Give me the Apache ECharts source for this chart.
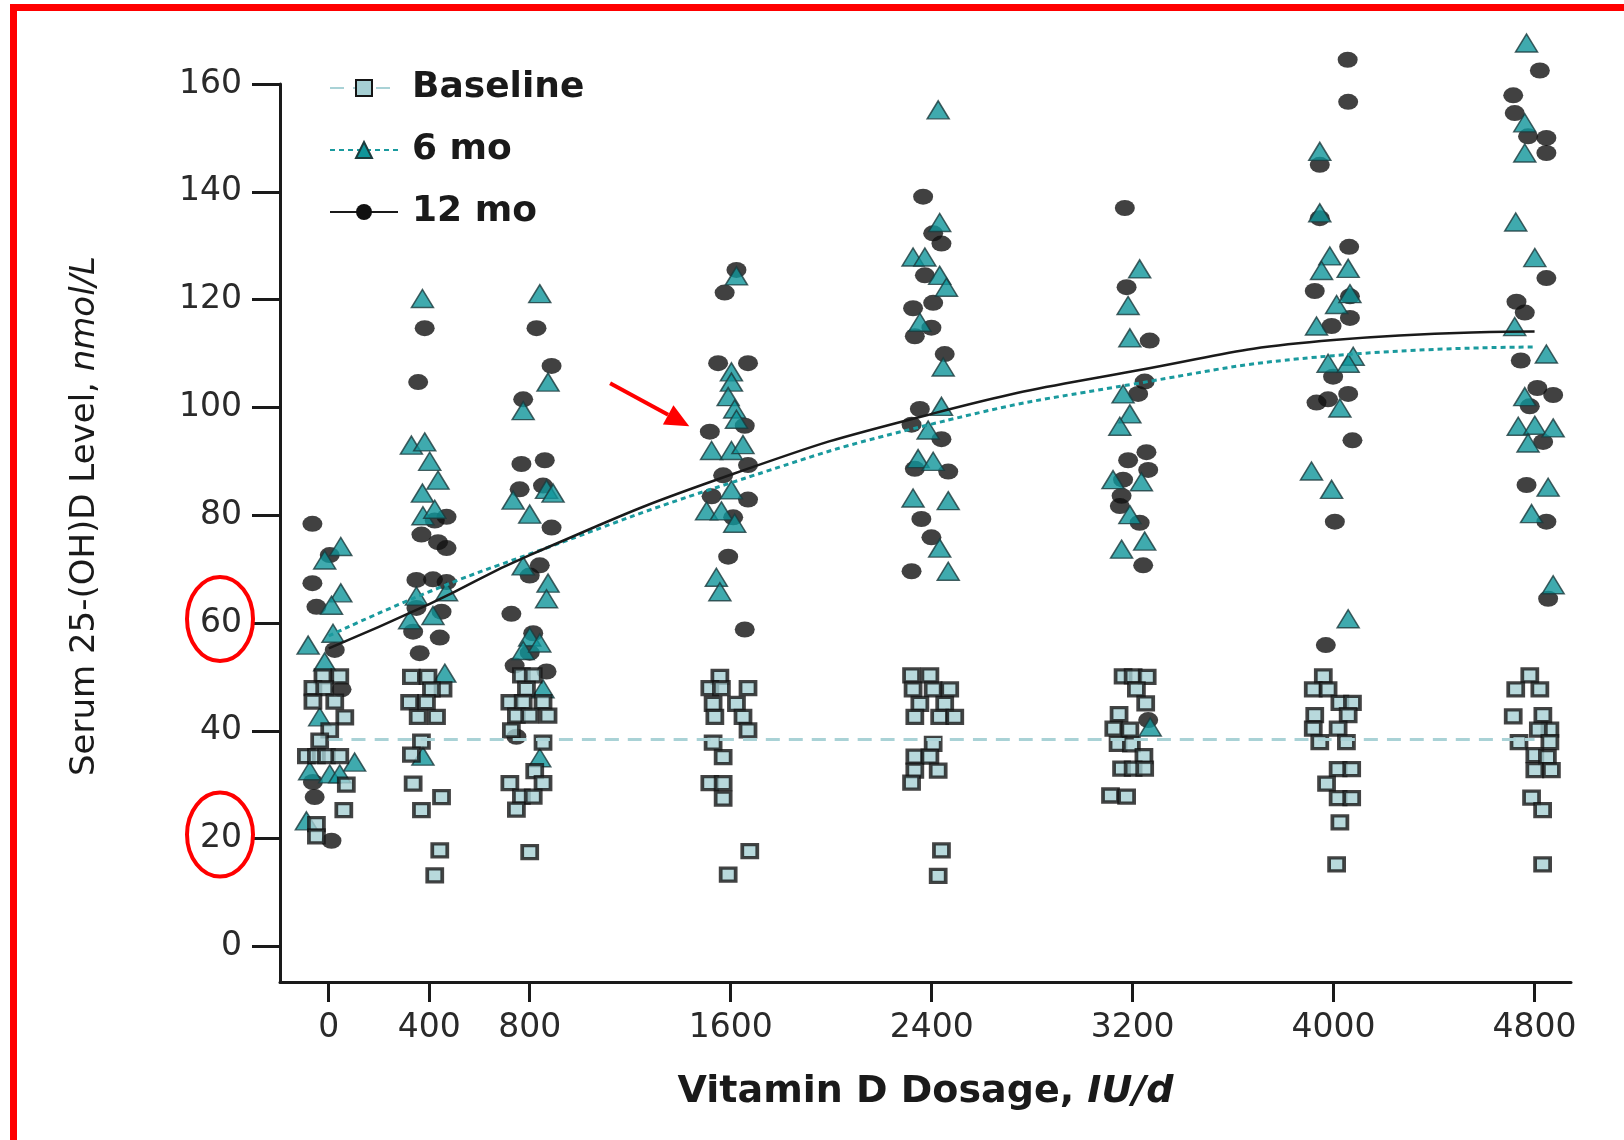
<!DOCTYPE html>
<html>
<head>
<meta charset="utf-8">
<script src="https://cdn.jsdelivr.net/npm/echarts@6/dist/echarts.min.js"></script>
<style>
  html, body { margin: 0; padding: 0; background: #fff; }
  #chart { width: 1624px; height: 1140px; }
</style>
</head>
<body>
<div id="chart"></div>
<script>
// dosage ticks (IU/d) and value ticks (nmol/L)
const doseTicks = [0, 400, 800, 1600, 2400, 3200, 4000, 4800]
const valueTicks = [0, 20, 40, 60, 80, 100, 120, 140, 160]

// fitted curves, read at each dosage
const baselineFit = [38.4, 38.4, 38.4, 38.4, 38.4, 38.4, 38.4, 38.4]
const sixMoFit = [57.6, 65.8, 72.8, 86.0, 96.9, 104.3, 109.6, 111.2]
const twelveMoFit = [55.3, 63.5, 72.6, 87.5, 98.8, 106.7, 112.5, 114.1]

// individual points: [jittered dose, level]
const baselinePts = [
  [-23, 50.1], [44, 50.1], [-63, 47.9], [-16, 47.9], [-63, 45.4], [24, 45.4], [64, 42.5], [4, 40.1], [-36, 38.2],
  [-89, 35.3], [-49, 35.3], [-9, 35.3], [44, 35.3], [70, 30.0], [60, 25.3], [-49, 22.7], [-49, 20.4],
  [329, 50.0], [395, 50.0], [455, 47.7], [409, 47.7], [322, 45.3], [389, 45.3], [356, 42.6], [429, 42.6],
  [369, 38.0], [329, 35.6], [336, 30.2], [449, 27.7], [369, 25.3], [442, 17.8], [422, 13.2],
  [767, 50.3], [814, 50.3], [787, 47.8], [721, 45.3], [774, 45.3], [853, 45.3], [747, 42.8], [800, 42.8],
  [873, 42.8], [727, 40.1], [853, 37.8], [820, 32.5], [721, 30.3], [853, 30.3], [767, 27.8], [814, 27.8],
  [747, 25.4], [800, 17.5],
  [1557, 50.0], [1517, 47.9], [1563, 47.9], [1669, 47.9], [1530, 45.0], [1623, 45.0], [1537, 42.6], [1649, 42.6],
  [1669, 40.1], [1530, 37.8], [1570, 35.1], [1517, 30.3], [1570, 30.3], [1570, 27.4], [1676, 17.7], [1590, 13.3],
  [2320, 50.3], [2393, 50.3], [2326, 47.7], [2406, 47.7], [2472, 47.7], [2353, 45.0], [2452, 45.0], [2333, 42.6],
  [2432, 42.6], [2492, 42.6], [2406, 37.6], [2333, 35.2], [2393, 35.2], [2333, 32.6], [2426, 32.6], [2320, 30.4],
  [2439, 17.8], [2426, 13.1],
  [3162, 50.1], [3202, 50.1], [3258, 50.0], [3215, 47.7], [3252, 45.1], [3146, 43.1], [3125, 40.4], [3189, 40.2],
  [3142, 37.6], [3195, 37.5], [3245, 35.3], [3156, 33.0], [3202, 33.0], [3248, 33.0], [3112, 28.0], [3176, 27.8],
  [3959, 50.1], [3919, 47.7], [3978, 47.7], [4025, 45.2], [4075, 45.2], [3925, 42.9], [4058, 42.9], [3919, 40.4],
  [4018, 40.4], [3945, 37.9], [4051, 37.9], [4018, 32.9], [4072, 32.9], [3972, 30.2], [4018, 27.5], [4072, 27.5],
  [4025, 23.0], [4012, 15.2],
  [4781, 50.3], [4725, 47.7], [4821, 47.7], [4715, 42.7], [4833, 42.9], [4861, 40.2], [4815, 40.2], [4738, 37.9],
  [4861, 37.9], [4801, 35.5], [4851, 35.1], [4801, 32.7], [4867, 32.7], [4788, 27.6], [4832, 25.3], [4832, 15.2]
]

const sixMoPts = [
  [48, 74.2], [-16, 71.7], [48, 65.6], [11, 63.3], [17, 58.1], [-82, 55.9], [-16, 52.8], [-36, 42.6], [103, 34.2],
  [-76, 32.6], [4, 32.0], [44, 32.0], [-89, 23.3],
  [373, 120.2], [329, 93.0], [382, 93.6], [402, 90.0], [435, 86.5], [373, 84.1], [375, 79.9], [422, 81.1],
  [349, 65.0], [469, 65.8], [322, 60.6], [415, 61.4], [462, 50.7], [375, 35.3],
  [840, 121.1], [873, 104.7], [774, 99.4], [734, 82.8], [867, 84.8], [800, 80.2], [893, 84.1], [774, 70.6],
  [873, 67.4], [867, 64.5], [800, 57.4], [774, 54.9], [840, 56.3], [853, 47.8], [840, 35.0],
  [1623, 124.4], [1603, 106.6], [1603, 104.7], [1590, 102.0], [1616, 99.7], [1623, 97.8], [1524, 92.0], [1603, 92.0],
  [1649, 93.1], [1603, 84.7], [1504, 80.8], [1563, 80.8], [1616, 78.5], [1543, 68.5], [1557, 65.8],
  [2426, 155.2], [2432, 134.3], [2326, 127.9], [2373, 127.9], [2432, 124.5], [2459, 122.3], [2353, 115.8], [2446, 107.5],
  [2439, 100.2], [2386, 95.8], [2346, 90.5], [2406, 90.0], [2326, 83.2], [2466, 82.7], [2432, 73.9], [2466, 69.6],
  [3228, 125.7], [3182, 118.9], [3189, 112.9], [3162, 102.5], [3189, 98.8], [3149, 96.5], [3122, 86.6], [3235, 86.2],
  [3189, 80.1], [3248, 75.2], [3156, 73.7], [3270, 40.7],
  [3945, 147.5], [3945, 136.1], [3985, 128.1], [3952, 125.4], [4058, 125.8], [4012, 119.1], [4065, 121.1], [3932, 115.1],
  [3978, 108.2], [4078, 109.5], [4058, 108.2], [4025, 99.9], [3912, 88.2], [3992, 84.8], [4058, 60.8],
  [4768, 167.6], [4761, 152.8], [4761, 147.2], [4725, 134.4], [4801, 127.8], [4721, 115.0], [4847, 109.9], [4761, 102.0],
  [4735, 96.5], [4801, 96.7], [4874, 96.2], [4774, 93.4], [4854, 85.2], [4788, 80.3], [4874, 67.1]
]

const twelveMoPts = [
  [-65, 78.4], [4, 72.6], [-65, 67.4], [-49, 63.0], [24, 55.0], [51, 47.7], [-63, 30.5], [-56, 27.7], [11, 19.6],
  [382, 114.7], [356, 104.7], [422, 79.0], [469, 79.7], [369, 76.4], [435, 75.0], [469, 73.9], [349, 68.0],
  [415, 68.1], [469, 67.6], [349, 62.8], [449, 62.1], [336, 58.4], [442, 57.3], [362, 54.4],
  [827, 114.7], [887, 107.7], [774, 101.5], [767, 89.5], [860, 90.2], [760, 84.8], [853, 85.5], [887, 77.7],
  [840, 70.7], [800, 68.8], [727, 61.7], [814, 58.1], [800, 54.5], [740, 52.1], [867, 51.0], [747, 38.9],
  [1623, 125.5], [1576, 121.3], [1550, 108.2], [1669, 108.2], [1656, 96.6], [1517, 95.5], [1669, 89.3], [1570, 87.4],
  [1524, 83.5], [1669, 82.9], [1610, 79.6], [1590, 72.3], [1656, 58.8],
  [2366, 139.1], [2406, 132.3], [2439, 130.4], [2373, 124.5], [2326, 118.4], [2406, 119.4], [2399, 114.8], [2333, 113.2],
  [2452, 109.9], [2353, 99.7], [2320, 96.8], [2439, 94.1], [2333, 88.6], [2466, 88.1], [2359, 79.3], [2399, 75.9],
  [2320, 69.6],
  [3169, 137.0], [3176, 122.3], [3268, 112.4], [3248, 104.8], [3222, 102.5], [3182, 90.2], [3255, 91.7], [3262, 88.4],
  [3162, 86.6], [3156, 83.6], [3149, 81.7], [3228, 78.6], [3242, 70.7], [3262, 42.0],
  [4056, 164.5], [4058, 156.7], [3945, 145.0], [3945, 135.1], [4062, 129.8], [3925, 121.6], [4065, 120.6], [4065, 116.6],
  [3992, 115.1], [3998, 105.7], [3932, 100.9], [3978, 101.5], [4058, 102.5], [4075, 93.9], [4005, 78.8], [3969, 55.9],
  [4821, 162.5], [4715, 157.9], [4721, 154.6], [4774, 150.3], [4847, 150.0], [4847, 147.2], [4728, 119.6], [4761, 117.6],
  [4847, 124.0], [4745, 108.7], [4811, 103.6], [4874, 102.3], [4781, 100.2], [4834, 93.6], [4768, 85.6], [4847, 78.8],
  [4854, 64.5]
]

const FONT = 'DejaVu Sans'
const INK = '#1a1a1a'

const sqStyle = { color: '#a6cfd3', borderColor: '#151515', borderWidth: 3.5 }
const triStyle = { color: '#0f959a', borderColor: '#1b3a3c', borderWidth: 1.5 }
const dotStyle = { color: '#111111' }

const zipFit = vals => doseTicks.map((d, i) => [d, vals[i]])

const chart = echarts.init(document.getElementById('chart'), null, { renderer: 'canvas' })

const option = {
  animation: false,
  backgroundColor: '#fff',
  grid: { left: 280, right: 53, top: 84, bottom: 158 },
  legend: {
    orient: 'vertical',
    left: 324,
    top: 65,
    itemWidth: 68,
    itemHeight: 20,
    itemGap: 26,
    data: ['Baseline', '6 mo', '12 mo'],
    textStyle: { fontFamily: FONT, fontSize: 36, fontWeight: 'bold', color: INK, padding: [0, 0, 0, 9] }
  },
  xAxis: {
    type: 'value',
    min: -194,
    max: 4945,
    name: '{n|Vitamin D Dosage, }{i|IU/d}',
    nameLocation: 'middle',
    nameGap: 91,
    nameTextStyle: {
      rich: {
        n: { fontFamily: FONT, fontSize: 38, fontWeight: 'bold', color: INK },
        i: { fontFamily: FONT, fontSize: 38, fontWeight: 'bold', fontStyle: 'italic', color: INK }
      }
    },
    axisLine: { onZero: false, lineStyle: { color: INK, width: 3 } },
    axisTick: { length: 20, lineStyle: { color: INK, width: 3 }, customValues: doseTicks },
    axisLabel: {
      customValues: doseTicks, margin: 30, fontFamily: FONT, fontSize: 33, color: '#2a2a2a',
      formatter: v => String(v)
    },
    splitLine: { show: false }
  },
  yAxis: {
    type: 'value',
    min: -6.6,
    max: 160,
    name: '{n|Serum 25-(OH)D Level, }{i|nmol/L}',
    nameLocation: 'middle',
    nameRotate: 90,
    nameGap: 178,
    nameTextStyle: {
      padding: [0, 0, 0, 34],
      rich: {
        n: { fontFamily: FONT, fontSize: 34, color: INK },
        i: { fontFamily: FONT, fontSize: 34, fontStyle: 'italic', color: INK }
      }
    },
    axisLine: { onZero: false, lineStyle: { color: INK, width: 3 } },
    axisTick: { length: 28, lineStyle: { color: INK, width: 3 }, customValues: valueTicks },
    axisLabel: { customValues: valueTicks, margin: 38, fontFamily: FONT, fontSize: 33, color: '#2a2a2a' },
    splitLine: { show: false }
  },
  series: [
    {
      name: 'Baseline', type: 'line', data: zipFit(baselineFit), smooth: true, z: 4,
      symbol: 'rect', showSymbol: false, itemStyle: sqStyle,
      lineStyle: { color: '#a9d2d6', width: 3, type: [14, 9] }
    },
    {
      name: '6 mo', type: 'line', data: zipFit(sixMoFit), smooth: true, z: 4,
      symbol: 'triangle', showSymbol: false, itemStyle: triStyle,
      lineStyle: { color: '#1a9a9e', width: 3, type: [5, 4] }
    },
    {
      name: '12 mo', type: 'line', data: zipFit(twelveMoFit), smooth: true, z: 5,
      symbol: 'circle', showSymbol: false, itemStyle: dotStyle,
      lineStyle: { color: INK, width: 2.5 }
    },
    {
      name: '12 mo', type: 'scatter', data: twelveMoPts, clip: false,
      symbol: 'circle', symbolSize: [20, 16], itemStyle: dotStyle
    },
    {
      name: '6 mo', type: 'scatter', data: sixMoPts, clip: false,
      symbol: 'triangle', symbolSize: [22, 18], itemStyle: triStyle
    },
    {
      name: 'Baseline', type: 'scatter', data: baselinePts, clip: false,
      symbol: 'rect', symbolSize: [15, 13], itemStyle: sqStyle
    }
  ]
}

chart.setOption(option)

// red markup on the scanned figure: frame, circled tick labels, arrow
const RED = '#ff0000'
const at = (x, y) => chart.convertToPixel({ gridIndex: 0 }, [x, y])
const labelX = 220
const ring = v => ({
  type: 'ellipse',
  shape: { cx: labelX, cy: at(0, v)[1] - 4, rx: 33, ry: 42 },
  style: { fill: 'none', stroke: RED, lineWidth: 4 },
  z: 100
})
const from = at(1120, 104.5)
const to = at(1435, 96.5)
const ang = Math.atan2(to[1] - from[1], to[0] - from[0])
const head = 24
const wing = 11
const base = [to[0] - head * Math.cos(ang), to[1] - head * Math.sin(ang)]
const arrowHead = [
  to,
  [base[0] + wing * Math.sin(ang), base[1] - wing * Math.cos(ang)],
  [base[0] - wing * Math.sin(ang), base[1] + wing * Math.cos(ang)]
]

chart.setOption({
  graphic: [
    { type: 'rect', shape: { x: 10, y: 4, width: 1614, height: 7 }, style: { fill: RED }, z: 100 },
    { type: 'rect', shape: { x: 10, y: 4, width: 7, height: 1136 }, style: { fill: RED }, z: 100 },
    ring(60),
    ring(20),
    { type: 'line', shape: { x1: from[0], y1: from[1], x2: base[0], y2: base[1] }, style: { stroke: RED, lineWidth: 4 }, z: 100 },
    { type: 'polygon', shape: { points: arrowHead }, style: { fill: RED }, z: 100 }
  ]
})
</script>
</body>
</html>
